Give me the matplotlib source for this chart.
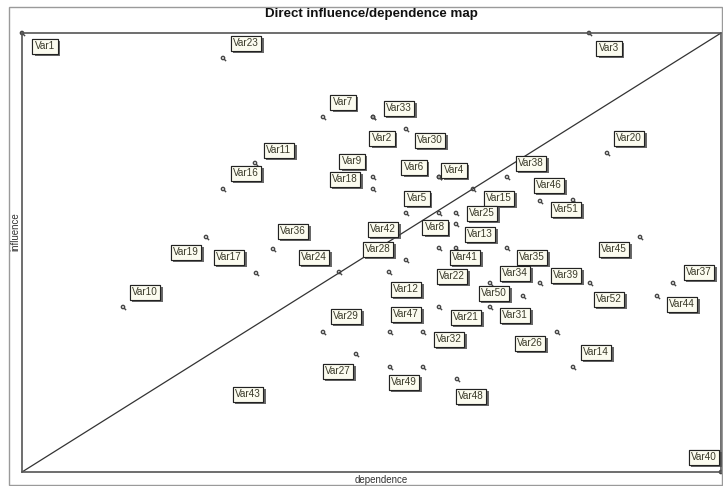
import matplotlib
matplotlib.use("Agg")
import matplotlib.pyplot as plt
import matplotlib.patheffects as pe
from matplotlib.path import Path
from matplotlib.patches import Rectangle

# ---- data (dependence on x, influence on y) ----
names = ["Var1", "Var23", "Var3", "Var7", "Var33", "Var2", "Var30", "Var20", "Var11", "Var16",
         "Var9", "Var18", "Var6", "Var4", "Var38", "Var15", "Var46", "Var51", "Var5", "Var8",
         "Var25", "Var13", "Var45", "Var19", "Var36", "Var42", "Var28", "Var41", "Var35", "Var12",
         "Var24", "Var17", "Var22", "Var50", "Var34", "Var39", "Var37", "Var44", "Var10", "Var29",
         "Var47", "Var21", "Var31", "Var32", "Var26", "Var14", "Var27", "Var49", "Var48", "Var52",
         "Var43", "Var40"]
dependence = [0, 201, 567, 301, 351, 351, 384, 585, 233, 201,
              351, 351, 417, 417, 485, 451, 518, 551, 384, 417,
              434, 434, 618, 184, 251, 417, 384, 434, 485, 367,
              317, 234, 468, 501, 518, 568, 651, 635, 101, 301,
              368, 417, 468, 401, 535, 551, 334, 368, 435, 401,
              226, 699]
influence = [439, 414, 439, 355, 355, 355, 343, 319, 309, 283,
             295, 283, 295, 295, 295, 283, 271, 272, 259, 259,
             259, 248, 235, 235, 223, 224, 212, 224, 224, 200,
             200, 199, 189, 176, 189, 189, 189, 176, 165, 140,
             140, 165, 165, 140, 140, 105, 118, 105, 93, 105,
             78, 0]

# ---- layout: label centre offset from its point, in pixels (right, down) ----
label_dx = [23, 23, 20, 20, 26, 9, 24, 22, 24, 23,
            -21, -28, -25, 15, 24, 26, 9, -7, 11, -4,
            26, 24, -26, -20, 20, -56, -28, 9, 25, 17,
            -25, -27, -38, -29, -25, -24, 26, 25, 22, 23,
            16, 27, 25, 26, -27, 23, -18, 14, 14, 186,
            0, -17]
label_dy = [13, -15, 15, -15, -9, 21, 11, -15, -13, -16,
            -16, -10, -10, -7, -14, 9, -16, 9, -15, 14,
            0, 10, 12, 15, -18, -19, -11, 9, 9, 17,
            -15, -16, -7, -3, -10, -8, -11, 8, -15, -16,
            -18, 10, 8, 7, 11, -15, 17, 15, 17, -68,
            0, -15]

W, H = 723, 486
fig = plt.figure(figsize=(W / 100, H / 100), dpi=100)
fig.patch.set_facecolor("white")
plt.rcParams["font.family"] = ["Liberation Sans", "DejaVu Sans"]

L, R, T, B = 22, 721, 33, 472
ax = fig.add_axes([L / W, 1 - B / H, (R - L) / W, (B - T) / H])
ax.set_xlim(0, 699)
ax.set_ylim(0, 439)
ax.set_xticks([])
ax.set_yticks([])
for s in ax.spines.values():
    s.set_color("#555555")
    s.set_linewidth(1.2)

# outer frame
fig.add_artist(Rectangle((9 / W, 1 - 485 / H), (722 - 9) / W, (485 - 7) / H,
                         transform=fig.transFigure, fill=False, ec="#9a9a9a", lw=1.0))

# diagonal
ax.plot([0, 699], [0, 439], color="#333333", lw=0.9, zorder=1)

# magnifier-like marker
circ = Path.circle((0, 0), 1.0)
tail = Path([(0.7, -0.7), (1.9, -1.9)], [Path.MOVETO, Path.LINETO])
mk = Path.make_compound_path(circ, tail)
ax.scatter(dependence, influence, marker=mk, s=20, facecolors="none",
           edgecolors="#444444", linewidths=1.0, zorder=2, clip_on=False)

k = 72 / 100
for n, x, y, dx, dy in zip(names, dependence, influence, label_dx, label_dy):
    t = ax.annotate(n, (x, y), xytext=(dx * k, -dy * k), textcoords="offset points",
                    ha="center", va="center", fontsize=7.2, color="#3a3a2a",
                    bbox=dict(boxstyle="square,pad=0.25", fc="#fbfbef", ec="#222222", lw=0.8),
                    zorder=5, annotation_clip=False)
    t.get_bbox_patch().set_path_effects([
        pe.withSimplePatchShadow(offset=(1.8, -1.8), shadow_rgbFace="#444444", alpha=0.8),
        pe.Normal()])

fig.text(371 / W, 1 - 14 / H, "Direct influence/dependence map", ha="center", va="center",
         fontsize=9.6, fontweight="bold", color="#111111")
fig.text(381 / W, 1 - 480 / H, "dependence", ha="center", va="center",
         fontsize=7, color="#333333")
fig.text(15 / W, 1 - 232 / H, "influence", ha="center", va="center", rotation=90,
         fontsize=7, color="#333333")

fig.savefig("out.png", dpi=100, facecolor="white")
